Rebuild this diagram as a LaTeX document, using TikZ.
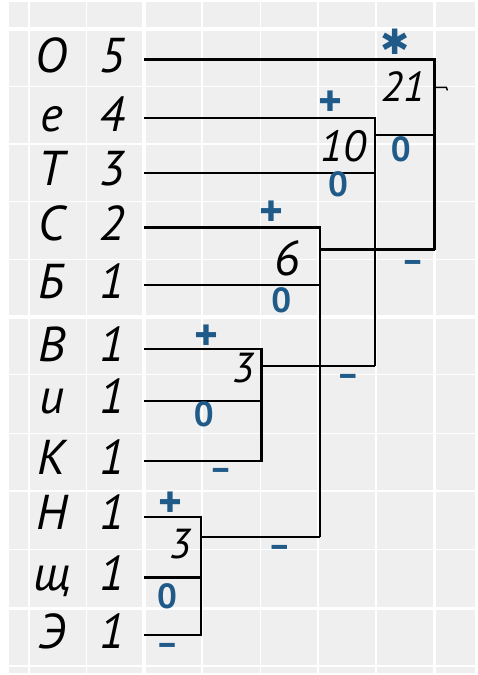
\documentclass[tikz,border=0pt]{standalone}
\usepackage{fontspec}
\setmainfont{PT Sans}
\newfontfamily\marksfont{DejaVu Sans}
\definecolor{PaperGray}{HTML}{EFEFEF}
\definecolor{InkBlue}{HTML}{1F5A88}

\begin{document}
\begin{tikzpicture}[x=0.02cm,y=-0.02cm,
  edge/.style={line width=1.3pt,line join=miter},
  leaf/.style={anchor=base,inner sep=0pt,font=\fontsize{28}{30}\selectfont\itshape},
  sum/.style={anchor=base,inner sep=0pt,font=\itshape},
  sign/.style={inner sep=0pt,text=InkBlue,font=\fontsize{20}{22}\selectfont\bfseries},
  plus/.style={sign,font=\fontsize{26}{28}\selectfont\bfseries}]
\fill[white] (0,0) rectangle (478,675);
\fill[PaperGray] (9,0) rectangle (478,675);
\foreach \x in {29,87,203,262,320,378} {\draw[white,line width=0.8pt] (\x,0) -- (\x,675);}
\foreach \y in {85,143,201,259,375,434,492,551,668} {\draw[white,line width=0.8pt] (9,\y) -- (478,\y);}
\foreach \x in {145,437} {\draw[white,line width=2.2pt] (\x,0) -- (\x,675);}
\foreach \y in {27,317,610} {\draw[white,line width=2.2pt] (9,\y) -- (478,\y);}
\useasboundingbox (0,0) rectangle (478,675);
% leaves: letter, weight, start of line
\foreach \i/\ch/\w/\y in {1/О/5/58,2/е/4/117,3/Т/3/172,4/С/2/227,5/Б/1/285,6/В/1/349,
    7/и/1/401,8/К/1/462,9/Н/1/518,10/щ/1/579,11/Э/1/637} {
  \node[leaf] (l\i) at (52,\y+13) {\ch};
  \node[leaf] (w\i) at (113,\y+13) {\w};
  \coordinate (c\i) at (145,\y);
}
% inner nodes: x of the bracket, y of its outgoing line
\coordinate (n21) at (437,86);
\coordinate (n10) at (377,134);
\coordinate (n6) at (322,249);
\coordinate (n3a) at (263,366);
\coordinate (n3b) at (202,538);
\coordinate (rootend) at (449,86);
% brackets
\draw[edge] (c9) -| (c11 -| n3b) -- (c11);
\draw[edge] (c10) -- (c10 -| n3b);
\draw[edge] (n3b) -- (n3b -| n6);
\draw[edge] (c6) -| (c8 -| n3a) -- (c8);
\draw[edge] (c7) -- (c7 -| n3a);
\draw[edge] (n3a) -- (n3a -| n10);
\draw[edge] (c4) -| (n3b -| n6);
\draw[edge] (c5) -- (c5 -| n6);
\draw[edge] (n6) -- (n6 -| n21);
\draw[edge] (c2) -| (n3a -| n10);
\draw[edge] (c3) -- (c3 -| n10);
\draw[edge] (n10) -- (n10 -| n21);
\draw[edge] (c1) -| (n6 -| n21);
\draw[edge,line width=0.8pt] (n21) -- (rootend) -- ++(1,3);
% sums
\node[sum,font=\fontsize{24}{26}\selectfont\itshape] (s21) at (406,100) {21};
\node[sum,font=\fontsize{25}{27}\selectfont\itshape] (s10) at (345,160) {10};
\node[sum,font=\fontsize{28}{30}\selectfont\itshape] (s6) at (289,275) {6};
\node[sum,font=\fontsize{24}{26}\selectfont\itshape] (s3a) at (245,383) {3};
\node[sum,font=\fontsize{24}{26}\selectfont\itshape] (s3b) at (181,560) {3};
% signs on the branches
\node[sign,font=\fontsize{20}{22}\selectfont\marksfont] (p1) at (397,40) {✱};
\node[plus] (p2) at (332,102) {+};
\node[sign] (z3) at (340,183) {0};
\node[sign] (z10) at (403,148) {0};
\node[sign] (m6) at (415,266) {–};
\node[plus] (p4) at (273,213) {+};
\node[sign] (z5) at (283,300) {0};
\node[sign] (m3a) at (350,381) {–};
\node[plus] (p6) at (208,338) {+};
\node[sign] (z7) at (205,415) {0};
\node[sign] (m8) at (222,475) {–};
\node[plus] (p9) at (171,506) {+};
\node[sign] (m3b) at (281,553) {–};
\node[sign] (z10b) at (168,598) {0};
\node[sign] (m11) at (168,651) {–};
\end{tikzpicture}
\end{document}
